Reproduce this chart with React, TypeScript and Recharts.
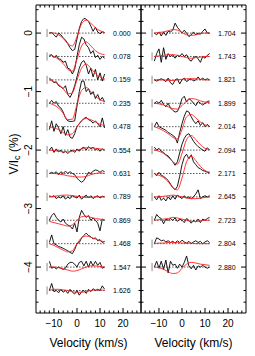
import React from 'react';
import { LineChart, Line, XAxis, YAxis, ReferenceLine, ReferenceDot } from 'recharts';

const W = 255;
const H = 356;

// velocity grids (km/s)
const VEL_OBS = [-12, -11, -10, -9, -8, -7, -6, -5, -4, -3, -2, -1, 0, 1, 2, 3, 4, 5, 6, 7, 8, 9, 10, 11, 12];
const VEL_MOD = [-12, -10, -8, -6, -4, -2, 0, 2, 4, 6, 8, 10, 12];

// axis ticks
const X_TICKS = [-16, -14, -12, -10, -8, -6, -4, -2, 0, 2, 4, 6, 8, 10, 12, 14, 16, 18, 20, 22, 24, 26];
const X_LABELS = [-10, 0, 10, 20];
const Y_TICKS = [0.4, 0.2, 0, -0.2, -0.4, -0.6, -0.8, -1, -1.2, -1.4, -1.6, -1.8, -2, -2.2, -2.4, -2.6, -2.8, -3, -3.2, -3.4, -3.6, -3.8, -4, -4.2, -4.4, -4.6];
const Y_LABELS = [0, -1, -2, -3, -4];

const X_DOMAIN = [-17.8, 27.8];
const Y_DOMAIN = [-4.785, 0.48];

const STEP = 0.4; // vertical shift between profiles (%)
const ERR_HALF = 0.07;
const ERR_V = -13;
const LABEL_V = 19.5;
const BASE_FROM = -12;
const BASE_TO = 12;

// ---- left column: rotational phases ----
const LEFT_PHASES = ['0.000', '0.078', '0.159', '0.235', '0.478', '0.554', '0.631', '0.789', '0.869', '1.468', '1.547', '1.626'];

const OBS_0000 = [0.0, 0.01, -0.03, -0.07, 0.0, -0.03, -0.08, -0.12, -0.18, -0.25, -0.3, -0.28, -0.1, 0.08, 0.2, 0.25, 0.24, 0.2, 0.12, 0.03, 0.1, 0.02, -0.01, 0.02, 0.01];
const OBS_0078 = [0.02, 0.03, -0.02, 0.02, -0.04, -0.05, -0.1, -0.08, -0.2, -0.22, -0.3, -0.22, 0.0, 0.2, 0.33, 0.3, 0.2, 0.15, 0.05, 0.1, -0.02, 0.02, -0.05, 0.0, -0.03];
const OBS_0159 = [0.03, 0.0, -0.05, -0.03, -0.1, -0.12, -0.15, -0.1, -0.25, -0.3, -0.22, -0.1, 0.05, 0.2, 0.3, 0.33, 0.25, 0.1, 0.2, 0.05, 0.18, 0.0, 0.12, -0.02, 0.1];
const OBS_0235 = [0.0, 0.05, 0.0, 0.03, -0.05, -0.08, -0.15, -0.25, -0.3, -0.31, -0.31, -0.3, -0.05, 0.2, 0.38, 0.38, 0.2, 0.25, 0.15, 0.2, 0.08, 0.15, 0.05, 0.1, 0.02];
const OBS_0478 = [-0.05, 0.1, -0.08, 0.05, -0.02, -0.12, 0.0, -0.15, -0.05, -0.18, -0.2, -0.12, 0.0, 0.05, 0.1, 0.14, 0.16, 0.12, 0.1, 0.06, 0.1, 0.05, 0.0, 0.15, -0.02];
const OBS_0554 = [0.0, 0.05, -0.04, 0.02, -0.03, 0.0, -0.05, -0.02, -0.06, -0.02, 0.0, -0.04, 0.02, -0.02, 0.03, 0.05, 0.0, 0.06, 0.02, 0.05, 0.0, 0.03, -0.02, 0.02, 0.0];
const OBS_0631 = [0.0, 0.02, 0.0, 0.03, -0.02, 0.03, 0.0, 0.04, 0.0, 0.03, 0.0, -0.02, -0.08, -0.12, -0.15, -0.12, -0.05, 0.02, 0.0, 0.04, 0.06, 0.05, 0.02, 0.05, 0.03];
const OBS_0789 = [0.02, 0.0, 0.02, -0.03, 0.0, -0.02, 0.02, -0.04, 0.0, -0.03, 0.02, 0.0, -0.02, 0.03, -0.04, 0.0, 0.03, -0.02, 0.02, -0.03, 0.0, 0.02, -0.02, 0.01, 0.0];
const OBS_0869 = [0.0, 0.08, 0.12, 0.05, 0.0, -0.03, 0.02, -0.05, -0.08, -0.1, -0.15, -0.05, -0.2, 0.05, 0.17, 0.1, 0.05, 0.08, 0.0, 0.04, 0.0, -0.05, -0.18, 0.02, 0.0];
const OBS_1468 = [0.02, 0.15, 0.0, -0.02, -0.05, -0.06, -0.08, -0.1, -0.12, -0.15, -0.17, -0.1, 0.0, 0.02, 0.1, 0.14, 0.18, 0.14, 0.12, 0.08, 0.1, 0.05, 0.07, 0.02, 0.04];
const OBS_1547 = [0.1, -0.02, 0.0, -0.03, 0.0, -0.02, -0.04, -0.02, 0.05, 0.08, 0.08, 0.05, 0.0, 0.08, 0.1, 0.02, 0.1, 0.0, 0.1, 0.02, 0.1, 0.03, 0.08, -0.02, 0.0];
const OBS_1626 = [0.0, 0.12, -0.02, 0.0, -0.04, 0.02, -0.03, 0.0, -0.05, 0.02, -0.03, -0.06, 0.0, -0.08, -0.02, 0.0, -0.05, 0.02, -0.02, 0.03, 0.0, 0.02, 0.0, 0.08, 0.02];

const MOD_0000 = [0, 0, -0.03, -0.09, -0.18, -0.22, -0.06, 0.16, 0.22, 0.17, 0.09, 0.04, 0.01];
const MOD_0078 = [0.02, 0, -0.05, -0.12, -0.22, -0.25, -0.05, 0.18, 0.25, 0.18, 0.1, 0.05, 0.03];
const MOD_0159 = [0, -0.03, -0.08, -0.15, -0.24, -0.22, 0, 0.2, 0.27, 0.2, 0.11, 0.05, 0.02];
const MOD_0235 = [0, -0.03, -0.08, -0.17, -0.28, -0.27, -0.02, 0.22, 0.27, 0.2, 0.12, 0.06, 0.03];
const MOD_0478 = [0, -0.02, -0.05, -0.1, -0.14, -0.12, 0, 0.1, 0.14, 0.12, 0.08, 0.04, 0.02];
const MOD_0554 = [0, -0.01, -0.02, -0.03, -0.03, -0.02, 0, 0.02, 0.04, 0.04, 0.03, 0.02, 0.01];
const MOD_0631 = [0, 0, -0.01, -0.02, -0.04, -0.05, -0.06, -0.06, -0.05, -0.02, 0, 0.01, 0];
const MOD_0789 = [0, 0.01, 0.02, 0.03, 0.03, 0.02, 0.01, 0, -0.01, -0.01, 0, 0, 0];
const MOD_0869 = [-0.02, -0.04, -0.06, -0.08, -0.1, -0.08, 0, 0.06, 0.07, 0.05, 0.03, 0.02, 0.01];
const MOD_1468 = [0, -0.03, -0.07, -0.11, -0.14, -0.12, 0, 0.1, 0.13, 0.11, 0.08, 0.05, 0.03];
const MOD_1547 = [0, 0, -0.01, -0.03, -0.05, -0.07, -0.06, -0.03, 0, 0.02, 0.02, 0.01, 0];
const MOD_1626 = [0, 0.02, 0.02, 0.01, 0, -0.02, -0.03, -0.03, -0.02, 0, 0.01, 0.01, 0];

const LEFT_OBS = [OBS_0000, OBS_0078, OBS_0159, OBS_0235, OBS_0478, OBS_0554, OBS_0631, OBS_0789, OBS_0869, OBS_1468, OBS_1547, OBS_1626];
const LEFT_MOD = [MOD_0000, MOD_0078, MOD_0159, MOD_0235, MOD_0478, MOD_0554, MOD_0631, MOD_0789, MOD_0869, MOD_1468, MOD_1547, MOD_1626];

// ---- right column ----
const RIGHT_PHASES = ['1.704', '1.743', '1.821', '1.899', '2.014', '2.094', '2.171', '2.645', '2.723', '2.804', '2.880'];

const OBS_1704 = [0.0, -0.03, 0.02, -0.05, 0.02, -0.04, 0.03, 0.02, 0.05, 0.17, 0.1, 0.05, 0.0, 0.05, 0.0, -0.06, -0.03, 0.02, -0.03, 0.0, -0.02, 0.03, 0.07, 0.0, 0.0];
const OBS_1743 = [-0.08, 0.05, 0.13, -0.1, 0.15, -0.05, 0.05, 0.0, 0.03, -0.03, 0.02, 0.0, 0.05, 0.0, 0.03, -0.05, -0.08, -0.02, 0.0, -0.04, -0.1, 0.0, -0.03, 0.02, 0.05];
const OBS_1821 = [0.0, -0.02, 0.0, 0.02, 0.0, -0.03, 0.03, -0.05, -0.08, 0.0, 0.02, -0.07, 0.0, 0.03, -0.03, 0.0, 0.02, -0.02, 0.0, 0.05, 0.0, 0.03, 0.0, 0.02, 0.0];
const OBS_1899 = [0.0, 0.03, 0.0, 0.05, -0.02, -0.06, 0.0, -0.08, -0.12, -0.15, -0.14, -0.05, 0.08, 0.12, 0.02, 0.08, 0.05, 0.0, -0.04, 0.03, 0.0, -0.03, 0.0, 0.03, 0.04];
const OBS_2014 = [0.0, 0.08, 0.0, -0.02, -0.04, -0.06, -0.1, -0.12, -0.15, -0.18, -0.28, -0.1, 0.05, 0.18, 0.27, 0.25, 0.17, 0.1, 0.05, 0.1, 0.02, 0.07, 0.0, 0.04, 0.0];
const OBS_2094 = [0.05, 0.0, 0.03, -0.02, -0.04, -0.08, -0.1, -0.15, -0.2, -0.26, -0.2, -0.05, 0.1, 0.2, 0.26, 0.28, 0.22, 0.15, 0.1, 0.06, 0.03, 0.0, -0.02, 0.04, 0.0];
const OBS_2171 = [0.0, -0.04, 0.02, -0.03, -0.05, -0.08, -0.12, -0.18, -0.24, -0.28, -0.22, -0.05, 0.15, 0.28, 0.33, 0.25, 0.32, 0.2, 0.15, 0.1, 0.08, 0.05, 0.04, 0.02, 0.02];
const OBS_2645 = [0.0, -0.05, 0.02, -0.06, -0.02, -0.07, 0.0, -0.05, 0.02, -0.04, 0.03, 0.0, -0.03, 0.02, -0.02, 0.0, -0.03, 0.0, 0.05, 0.12, -0.03, 0.0, 0.02, 0.0, 0.02];
const OBS_2723 = [0.0, 0.1, 0.05, 0.03, -0.06, 0.02, 0.0, 0.03, 0.0, 0.04, -0.02, 0.02, 0.0, -0.04, 0.03, 0.0, -0.05, 0.0, -0.03, 0.02, -0.04, 0.02, 0.0, 0.03, 0.05];
const OBS_2804 = [0.0, 0.1, 0.08, 0.05, 0.06, 0.03, 0.05, 0.02, 0.04, 0.01, 0.05, 0.02, 0.06, 0.03, 0.01, 0.04, 0.0, 0.03, 0.05, 0.02, 0.04, 0.0, 0.03, 0.05, 0.02];
const OBS_2880 = [0.0, 0.1, -0.02, 0.1, -0.04, 0.12, -0.1, 0.1, 0.03, 0.05, -0.02, 0.05, 0.0, 0.08, 0.19, 0.02, -0.03, 0.03, -0.05, 0.02, 0.0, 0.03, 0.0, -0.02, 0.0];

const MOD_1704 = [0, 0.01, 0.02, 0.04, 0.06, 0.05, 0.01, -0.03, -0.04, -0.03, -0.01, 0, 0];
const MOD_1743 = [0, 0.01, 0.02, 0.03, 0.03, 0.02, 0, -0.02, -0.03, -0.02, -0.01, 0, 0];
const MOD_1821 = [0, 0, 0, -0.01, -0.01, 0, 0.01, 0.02, 0.02, 0.02, 0.01, 0, 0];
const MOD_1899 = [0, -0.01, -0.03, -0.06, -0.09, -0.1, -0.04, 0.04, 0.08, 0.07, 0.04, 0.02, 0.01];
const MOD_2014 = [0, -0.03, -0.07, -0.12, -0.18, -0.21, -0.05, 0.17, 0.21, 0.15, 0.08, 0.03, 0.01];
const MOD_2094 = [0, -0.02, -0.06, -0.12, -0.2, -0.24, -0.06, 0.18, 0.25, 0.18, 0.09, 0.03, 0.01];
const MOD_2171 = [0, -0.03, -0.07, -0.14, -0.24, -0.28, -0.08, 0.2, 0.3, 0.22, 0.12, 0.05, 0.02];
const MOD_2645 = [0, 0, 0.01, 0.02, 0.03, 0.02, 0, -0.02, -0.03, -0.03, -0.02, -0.01, 0];
const MOD_2723 = [0, 0.01, 0.02, 0.03, 0.05, 0.04, 0.02, 0, -0.02, -0.02, -0.01, 0, 0];
const MOD_2804 = [0, 0.01, 0.01, 0.02, 0.02, 0.02, 0.01, 0.01, 0.01, 0, 0, 0, 0];
const MOD_2880 = [0, -0.01, -0.04, -0.08, -0.11, -0.1, -0.02, 0.05, 0.08, 0.07, 0.05, 0.04, 0.03];

const RIGHT_OBS = [OBS_1704, OBS_1743, OBS_1821, OBS_1899, OBS_2014, OBS_2094, OBS_2171, OBS_2645, OBS_2723, OBS_2804, OBS_2880];
const RIGHT_MOD = [MOD_1704, MOD_1743, MOD_1821, MOD_1899, MOD_2014, MOD_2094, MOD_2171, MOD_2645, MOD_2723, MOD_2804, MOD_2880];

const FONT = '"Liberation Sans", Arial, Helvetica, sans-serif';

const inList = (v: number, list: number[]) => list.some((m) => Math.abs(m - v) < 1e-6);
const fmt = (v: number) => (v < 0 ? '\u2212' + Math.abs(v) : String(v));

const MAJOR = 5;
const MINOR = 2.5;

function XTickBottom(props: any) {
  const { x, y, payload } = props;
  const major = inList(payload.value, X_LABELS);
  return (
    <g>
      <line x1={x} x2={x} y1={y} y2={y - (major ? MAJOR : MINOR)} stroke="#000" strokeWidth={1} />
      {major && (
        <text x={x} y={y + 10} textAnchor="middle" dominantBaseline="central" fontSize={10} fill="#000" fontFamily={FONT}>
          {fmt(payload.value)}
        </text>
      )}
    </g>
  );
}

function XTickTop(props: any) {
  const { x, y, payload } = props;
  const major = inList(payload.value, X_LABELS);
  return <line x1={x} x2={x} y1={y} y2={y + (major ? MAJOR : MINOR)} stroke="#000" strokeWidth={1} />;
}

function YTickLeftLabeled(props: any) {
  const { x, y, payload } = props;
  const major = inList(payload.value, Y_LABELS);
  const lx = x - 7;
  return (
    <g>
      <line x1={x} x2={x + (major ? MAJOR : MINOR)} y1={y} y2={y} stroke="#000" strokeWidth={1} />
      {major && (
        <text
          x={lx}
          y={y}
          transform={`rotate(-90 ${lx} ${y})`}
          textAnchor="middle"
          dominantBaseline="central"
          fontSize={10}
          fill="#000"
          fontFamily={FONT}
        >
          {fmt(payload.value)}
        </text>
      )}
    </g>
  );
}

function YTickLeft(props: any) {
  const { x, y, payload } = props;
  const major = inList(payload.value, Y_LABELS);
  return <line x1={x} x2={x + (major ? MAJOR : MINOR)} y1={y} y2={y} stroke="#000" strokeWidth={1} />;
}

function YTickRight(props: any) {
  const { x, y, payload } = props;
  const major = inList(payload.value, Y_LABELS);
  return <line x1={x} x2={x - (major ? MAJOR : MINOR)} y1={y} y2={y} stroke="#000" strokeWidth={1} />;
}

const velTitle = (p: any) => {
  const vb = p.viewBox || {};
  return (
    <text x={vb.x + vb.width / 2} y={343} textAnchor="middle" dominantBaseline="central" fontSize={12} fill="#000" fontFamily={FONT}>
      Velocity (km/s)
    </text>
  );
};

const yTitle = () => {
  const cx = 14;
  const cy = 154;
  return (
    <text x={cx} y={cy} transform={`rotate(-90 ${cx} ${cy})`} textAnchor="middle" dominantBaseline="central" fontSize={12} fill="#000" fontFamily={FONT}>
      V/I
      <tspan fontSize={9} dy={3}>c</tspan>
      <tspan dy={-3}> (%)</tspan>
    </text>
  );
};

const phaseLabel = (text: string) => (p: any) => {
  const vb = p.viewBox || {};
  const cx = (vb.x || 0) + (vb.width || 0) / 2;
  const cy = (vb.y || 0) + (vb.height || 0) / 2;
  return (
    <text x={cx} y={cy} textAnchor="middle" dominantBaseline="central" fontSize={7} fill="#000" fontFamily={FONT}>
      {text}
    </text>
  );
};

type PanelProps = {
  phases: string[];
  obs: number[][];
  mod: number[][];
  plotLeft: number;
  plotRight: number;
  labeled: boolean;
};

function Panel({ phases, obs, mod, plotLeft, plotRight, labeled }: PanelProps) {
  const top = 5;
  const bottom = 313;
  return (
    <div style={{ position: 'absolute', left: 0, top: 0 }}>
      <LineChart width={W} height={H} margin={{ top: 0, right: 0, bottom: 0, left: 0 }}>
        <XAxis
          xAxisId="b"
          dataKey="v"
          type="number"
          orientation="bottom"
          domain={X_DOMAIN}
          ticks={X_TICKS}
          interval={0}
          allowDataOverflow
          height={H - bottom}
          tickSize={0}
          tickMargin={0}
          tickLine={false}
          axisLine={{ stroke: '#000', strokeWidth: 1 }}
          tick={(p: any) => <XTickBottom {...p} />}
          label={{ content: velTitle }}
        />
        <XAxis
          xAxisId="t"
          dataKey="v"
          type="number"
          orientation="top"
          domain={X_DOMAIN}
          ticks={X_TICKS}
          interval={0}
          allowDataOverflow
          height={top}
          tickSize={0}
          tickMargin={0}
          tickLine={false}
          axisLine={{ stroke: '#000', strokeWidth: 1 }}
          tick={(p: any) => <XTickTop {...p} />}
        />
        <YAxis
          yAxisId="l"
          type="number"
          orientation="left"
          domain={Y_DOMAIN}
          ticks={Y_TICKS}
          interval={0}
          allowDataOverflow
          width={plotLeft}
          tickSize={0}
          tickMargin={0}
          tickLine={false}
          axisLine={{ stroke: '#000', strokeWidth: 1 }}
          tick={(p: any) => (labeled ? <YTickLeftLabeled {...p} /> : <YTickLeft {...p} />)}
          label={labeled ? { content: yTitle } : undefined}
        />
        <YAxis
          yAxisId="r"
          type="number"
          orientation="right"
          domain={Y_DOMAIN}
          ticks={Y_TICKS}
          interval={0}
          allowDataOverflow
          width={W - plotRight}
          tickSize={0}
          tickMargin={0}
          tickLine={false}
          axisLine={{ stroke: '#000', strokeWidth: 1 }}
          tick={(p: any) => <YTickRight {...p} />}
        />
        {phases.map((ph, i) => {
          const base = -STEP * i;
          return (
            <ReferenceLine
              key={'base' + ph}
              xAxisId="b"
              yAxisId="l"
              segment={[{ x: BASE_FROM, y: base }, { x: BASE_TO, y: base }]}
              stroke="#000"
              strokeWidth={1}
              strokeDasharray="1 2"
            />
          );
        })}
        {phases.map((ph, i) => {
          const base = -STEP * i;
          return (
            <ReferenceLine
              key={'err' + ph}
              xAxisId="b"
              yAxisId="l"
              segment={[{ x: ERR_V, y: base - ERR_HALF }, { x: ERR_V, y: base + ERR_HALF }]}
              stroke="#8c8c8c"
              strokeWidth={1}
            />
          );
        })}
        {phases.map((ph, i) => {
          const base = -STEP * i;
          const data = VEL_OBS.map((v, k) => ({ v, y: base + obs[i][k] }));
          return (
            <Line
              key={'obs' + ph}
              xAxisId="b"
              yAxisId="l"
              data={data}
              dataKey="y"
              type="linear"
              stroke="#000"
              strokeWidth={0.9}
              dot={false}
              activeDot={false}
              isAnimationActive={false}
            />
          );
        })}
        {phases.map((ph, i) => {
          const base = -STEP * i;
          const data = VEL_MOD.map((v, k) => ({ v, y: base + mod[i][k] }));
          return (
            <Line
              key={'mod' + ph}
              xAxisId="b"
              yAxisId="l"
              data={data}
              dataKey="y"
              type="monotone"
              stroke="#ff2020"
              strokeWidth={0.9}
              dot={false}
              activeDot={false}
              isAnimationActive={false}
            />
          );
        })}
        {phases.map((ph, i) => {
          const base = -STEP * i;
          return (
            <ReferenceDot
              key={'lab' + ph}
              xAxisId="b"
              yAxisId="l"
              x={LABEL_V}
              y={base}
              r={0}
              fill="none"
              stroke="none"
              label={{ content: phaseLabel(ph) }}
            />
          );
        })}
      </LineChart>
    </div>
  );
}

export default function App() {
  return (
    <div style={{ position: 'absolute', left: 0, top: 0, width: W, height: H, background: '#fff', fontFamily: FONT }}>
      <Panel phases={LEFT_PHASES} obs={LEFT_OBS} mod={LEFT_MOD} plotLeft={36} plotRight={141} labeled={true} />
      <Panel phases={RIGHT_PHASES} obs={RIGHT_OBS} mod={RIGHT_MOD} plotLeft={141} plotRight={246} labeled={false} />
    </div>
  );
}
